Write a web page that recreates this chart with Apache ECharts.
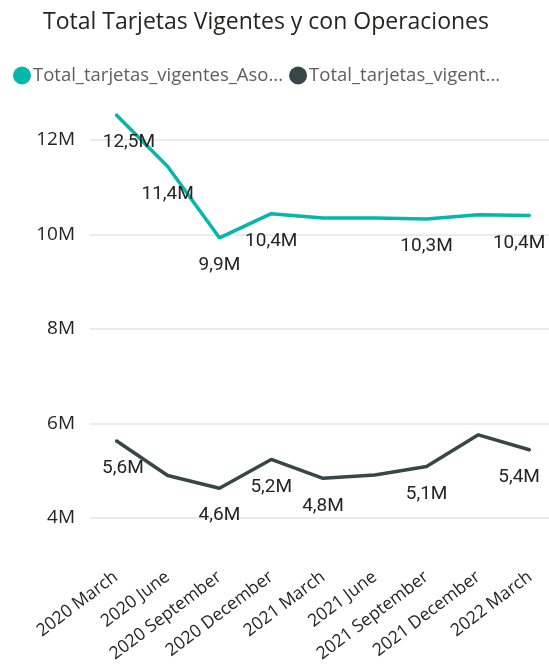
<!DOCTYPE html>
<html>
<head>
<meta charset="utf-8">
<script src="https://cdn.jsdelivr.net/npm/echarts@6/dist/echarts.min.js"></script>
<style>
  html, body { margin: 0; padding: 0; background: #fff; }
  #chart { width: 549px; height: 665px; }
</style>
</head>
<body>
<div id="chart"></div>
<script>
// quarters on the x axis
var categories = ["2020 March", "2020 June", "2020 September", "2020 December",
  "2021 March", "2021 June", "2021 September", "2021 December", "2022 March"];

// values in millions
var asociadas = [12.54, 11.44, 9.93, 10.44, 10.35, 10.35, 10.33, 10.42, 10.40];
var operaciones = [5.64, 4.90, 4.63, 5.24, 4.84, 4.91, 5.09, 5.76, 5.44];

// which points power bi left without a label
var hideAsociadas = [4, 5, 7];
var hideOperaciones = [1, 5, 7];

var yTicks = [4, 6, 8, 10, 12];

var seriesNames = ["Total_tarjetas_vigentes_Asociadas", "Total_tarjetas_vigentes_con_Operaciones"];
var legendShort = ["Total_tarjetas_vigentes_Aso...", "Total_tarjetas_vigent..."];

function fmt(v) {
  return v.toFixed(1).replace(".", ",") + "M";
}

function buildData(values, hidden, firstShift) {
  var last = values.length - 1;
  return values.map(function (v, i) {
    var item = { value: v };
    if (hidden.indexOf(i) >= 0) item.label = { show: false };
    // edge labels are pushed inwards so they stay inside the visual
    if (i === 0) item.label = { offset: [firstShift, 0] };
    if (i === last) item.label = { offset: [-11, 0] };
    return item;
  });
}

var chart = echarts.init(document.getElementById("chart"));

var labelStyle = {
  show: true,
  position: "bottom",
  distance: 17,
  color: "#252423",
  fontFamily: "Roboto",
  fontSize: 19,
  formatter: function (p) { return fmt(p.value); }
};

chart.setOption({
  animation: false,
  title: {
    text: "Total Tarjetas Vigentes y con Operaciones",
    left: 38,
    top: 6,
    textStyle: { fontFamily: "Open Sans", fontWeight: "normal", fontSize: 23, color: "#252423" }
  },
  legend: {
    top: 61,
    left: 8,
    itemGap: 6,
    itemWidth: 18,
    itemHeight: 18,
    icon: "circle",
    textStyle: { fontFamily: "Open Sans", fontSize: 18.5, color: "#605E5C", padding: [0, 0, 0, -3] },
    formatter: function (name) { return legendShort[seriesNames.indexOf(name)]; },
    data: seriesNames
  },
  grid: { left: 90, right: -7, top: 140, bottom: 147, outerBoundsMode: "none", containLabel: false },
  xAxis: {
    type: "category",
    data: categories,
    boundaryGap: true,
    axisLine: { show: false },
    axisTick: { show: false },
    axisLabel: {
      interval: 0,
      rotate: 37,
      margin: 57,
      fontFamily: "Open Sans",
      fontSize: 17.5,
      color: "#252423"
    }
  },
  yAxis: {
    type: "value",
    min: yTicks[0],
    max: yTicks[yTicks.length - 1],
    interval: 2,
    axisLine: { show: false },
    axisTick: { show: false },
    splitLine: { lineStyle: { color: "#E5E5E5", width: 1.5 } },
    axisLabel: {
      margin: 15,
      fontFamily: "Open Sans",
      fontSize: 19,
      color: "#252423",
      formatter: function (v) { return v + "M"; }
    }
  },
  series: [
    {
      name: seriesNames[0],
      type: "line",
      clip: false,
      data: buildData(asociadas, hideAsociadas, 13),
      color: "#01B8AA",
      lineStyle: { width: 3.5 },
      symbol: "circle",
      symbolSize: 2,
      label: labelStyle
    },
    {
      name: seriesNames[1],
      type: "line",
      clip: false,
      data: buildData(operaciones, hideOperaciones, 7),
      color: "#374649",
      lineStyle: { width: 3.5 },
      symbol: "circle",
      symbolSize: 2,
      label: labelStyle
    }
  ]
});
</script>
</body>
</html>
